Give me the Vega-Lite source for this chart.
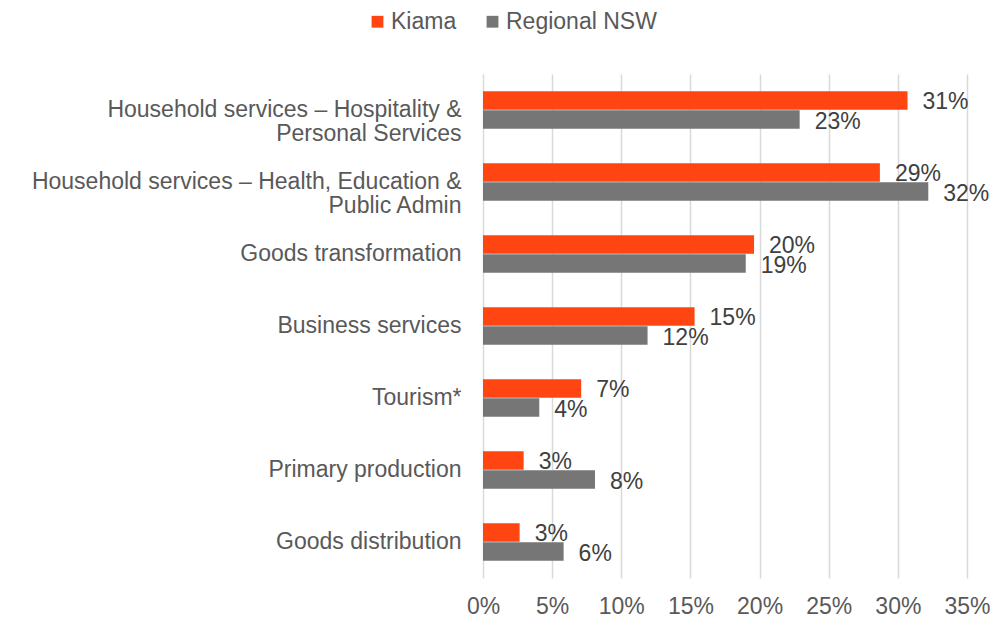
{
  "$schema": "https://vega.github.io/schema/vega-lite/v6.json",
  "width": 484,
  "height": 504,
  "autosize": {"type": "none"},
  "padding": {"left": 483, "top": 74, "right": 30, "bottom": 41},
  "background": "white",
  "config": {
    "font": "Liberation Sans",
    "view": {"stroke": null}
  },
  "data": {
    "values": [
      {"category": "Household services – Hospitality &|Personal Services", "region": "Kiama", "value": 0.307},
      {"category": "Household services – Hospitality &|Personal Services", "region": "Regional NSW", "value": 0.229},
      {"category": "Household services – Health, Education &|Public Admin", "region": "Kiama", "value": 0.287},
      {"category": "Household services – Health, Education &|Public Admin", "region": "Regional NSW", "value": 0.322},
      {"category": "Goods transformation", "region": "Kiama", "value": 0.196},
      {"category": "Goods transformation", "region": "Regional NSW", "value": 0.19},
      {"category": "Business services", "region": "Kiama", "value": 0.153},
      {"category": "Business services", "region": "Regional NSW", "value": 0.119},
      {"category": "Tourism*", "region": "Kiama", "value": 0.071},
      {"category": "Tourism*", "region": "Regional NSW", "value": 0.0407},
      {"category": "Primary production", "region": "Kiama", "value": 0.0294},
      {"category": "Primary production", "region": "Regional NSW", "value": 0.081},
      {"category": "Goods distribution", "region": "Kiama", "value": 0.0265},
      {"category": "Goods distribution", "region": "Regional NSW", "value": 0.0583}
    ]
  },
  "encoding": {
    "y": {
      "field": "category",
      "type": "nominal",
      "sort": null,
      "scale": {"paddingInner": 0.48, "paddingOuter": 0.24},
      "axis": {
        "title": null,
        "domain": false,
        "ticks": false,
        "labelExpr": "split(datum.label, '|')",
        "labelFontSize": 23,
        "labelColor": "#595959",
        "labelPadding": 22,
        "labelLineHeight": 24,
        "labelLimit": 700
      }
    },
    "yOffset": {
      "field": "region",
      "type": "nominal",
      "sort": ["Kiama", "Regional NSW"],
      "scale": {"paddingInner": 0.03}
    },
    "x": {
      "field": "value",
      "type": "quantitative",
      "scale": {"domain": [0, 0.35], "nice": false},
      "axis": {
        "title": null,
        "format": ".0%",
        "values": [0, 0.05, 0.1, 0.15, 0.2, 0.25, 0.3, 0.35],
        "domain": false,
        "ticks": false,
        "labelFlush": false,
        "labelFontSize": 23,
        "labelColor": "#595959",
        "labelPadding": 17,
        "gridColor": "#D9D9D9",
        "gridWidth": 1.5
      }
    }
  },
  "layer": [
    {
      "mark": {"type": "bar"},
      "encoding": {
        "color": {
          "field": "region",
          "type": "nominal",
          "sort": ["Kiama", "Regional NSW"],
          "scale": {"domain": ["Kiama", "Regional NSW"], "range": ["#FF4612", "#767676"]},
          "legend": {
            "title": null,
            "orient": "none",
            "direction": "horizontal",
            "legendX": -117,
            "legendY": -64,
            "symbolType": "square",
            "symbolSize": 140,
            "symbolStrokeWidth": 0,
            "symbolOpacity": 1,
            "labelFontSize": 23,
            "labelColor": "#595959",
            "labelOffset": 2,
            "columnPadding": 24
          }
        }
      }
    },
    {
      "mark": {"type": "text", "align": "left", "baseline": "middle", "dx": 15, "dy": 2, "fontSize": 23, "color": "#404040"},
      "encoding": {
        "text": {"field": "value", "type": "quantitative", "format": ".0%"}
      }
    }
  ]
}
